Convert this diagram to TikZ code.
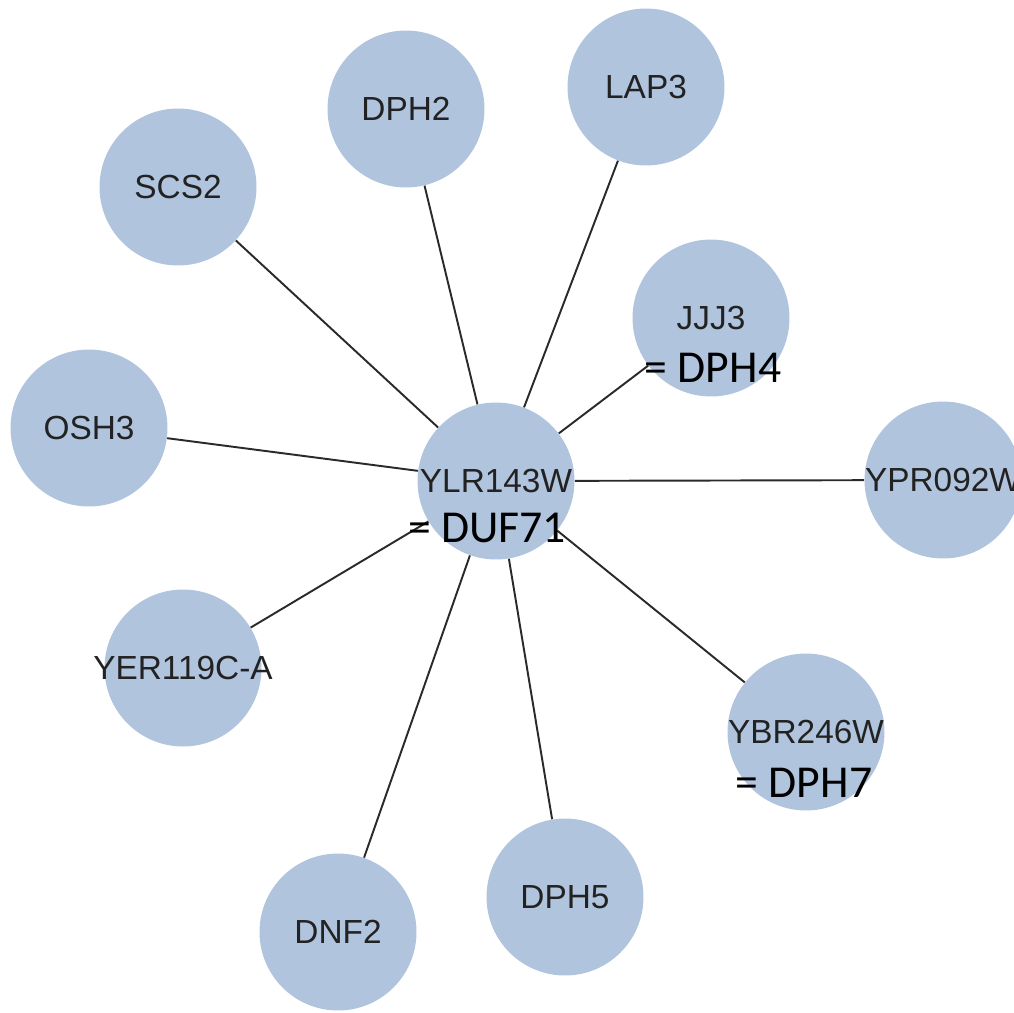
\documentclass[tikz,border=0pt]{standalone}
\usepackage{fontspec}
\setmainfont{Liberation Sans}
\newfontfamily\notefont{Carlito}
\usepackage{tikz}
\usetikzlibrary{positioning}
\definecolor{protblue}{HTML}{B0C4DE}
\definecolor{protlabel}{HTML}{222222}
\definecolor{linkgray}{HTML}{2A2A2A}

\begin{document}
\begin{tikzpicture}[x=0.02cm,y=-0.02cm,
    prot/.style={circle,fill=protblue,minimum size=3.14cm,inner sep=0pt,
      label={[font=\fontsize{19}{19}\selectfont,text=protlabel,inner sep=0pt]center:#1}},
    link/.style={draw=linkgray,line width=1.1pt},
    note/.style={font=\notefont\fontsize{26}{26}\selectfont,inner sep=0pt}]
\useasboundingbox (0,0) rectangle (1014,1012);

% Proteines
\node[prot=YLR143W] (ylr) at (496,481) {};
\node[prot=DPH2] (dph2) at (406,109) {};
\node[prot=LAP3] (lap3) at (646,87) {};
\node[prot=SCS2] (scs2) at (178,187) {};
\node[prot=JJJ3] (jjj3) at (711,318) {};
\node[prot=OSH3] (osh3) at (89,428) {};
\node[prot=YPR092W] (ypr) at (943,480) {};
\node[prot=YER119C-A] (yer) at (183,668) {};
\node[prot=YBR246W] (ybr) at (806,732) {};
\node[prot=DPH5] (dph5) at (565,897) {};
\node[prot=DNF2] (dnf2) at (338,932) {};

% Interactions
\foreach \n in {dph2,lap3,scs2,jjj3,osh3,ypr,yer,ybr,dph5,dnf2} {
    \draw[link] (ylr) -- (\n);
}

% Noms alternatifs
\node[note] (dph4) at (713,368) {= DPH4};
\node[note] (duf71) at (487,528) {= DUF71};
\node[note] (dph7) at (804,783) {= DPH7};
\end{tikzpicture}
\end{document}
